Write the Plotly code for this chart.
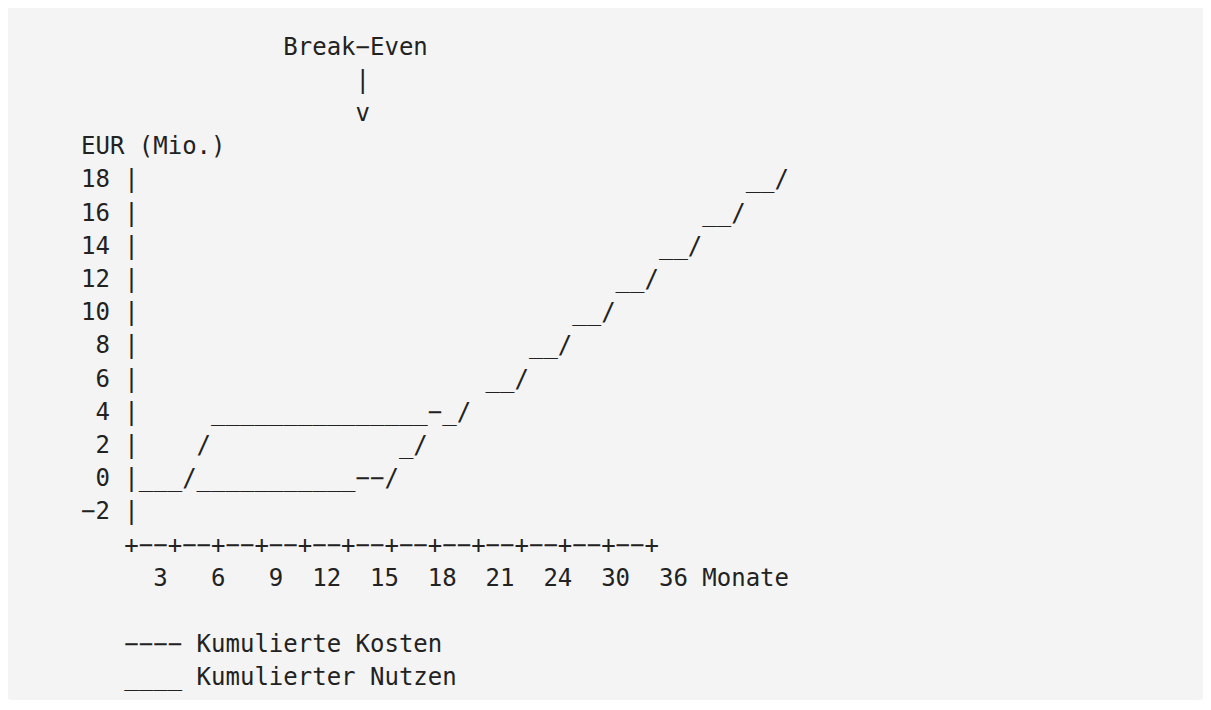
import plotly.graph_objects as go

# ---- data ----
DASH = "\u2212"
break_even_label = "Break" + DASH + "Even"
break_even_col = 19            # column of the marker arrow
y_axis_title = "EUR (Mio.)"
y_tick_labels = [18, 16, 14, 12, 10, 8, 6, 4, 2, 0, -2]
# text drawn to the right of each y tick's "|" (starting at column 4)
curve_rows = [
    " " * 42 + "__/",
    " " * 39 + "__/",
    " " * 36 + "__/",
    " " * 33 + "__/",
    " " * 30 + "__/",
    " " * 27 + "__/",
    " " * 24 + "__/",
    "     _______________" + DASH + "_/",
    "    /             _/",
    "___/___________" + DASH * 2 + "/",
    "",
]
x_tick_labels = [3, 6, 9, 12, 15, 18, 21, 24, 30, 36]
x_unit = "Monate"
legend_items = [(DASH * 4, "Kumulierte Kosten"), ("____", "Kumulierter Nutzen")]

# ---- build text lines ----
lines = []
lines.append(" " * (break_even_col - 5) + break_even_label)
lines.append(" " * break_even_col + "|")
lines.append(" " * break_even_col + "v")
lines.append(y_axis_title)
for v, row in zip(y_tick_labels, curve_rows):
    lines.append(f"{v:>2}".replace("-", DASH) + " |" + row)
lines.append("   " + ("+" + DASH * 2) * (len(x_tick_labels) + 2) + "+")
lines.append("  " + "".join(str(t).rjust(4) for t in x_tick_labels) + " " + x_unit)
lines.append("")
for sym, name in legend_items:
    lines.append("   " + sym + " " + name)

# ---- geometry (page pixels; page body has an 8px margin) ----
OFF = 8
W, H = 1211 - OFF, 710 - OFF
char_w = 14.4
x0_px = 79.6 - OFF
line_h = 33.2
y0_px = 46.5 - OFF

fig = go.Figure()
fig.add_trace(go.Scatter(x=[None], y=[None], showlegend=False, hoverinfo="skip"))

annotations = []
for i, ln in enumerate(lines):
    if not ln.strip():
        continue
    annotations.append(dict(
        x=0, y=i, xref="x", yref="y",
        text=ln.replace(" ", "\u00a0"),
        showarrow=False, xanchor="left", yanchor="middle",
        font=dict(family="DejaVu Sans Mono", size=24, color="#222222"),
        borderpad=0,
    ))

# rounded background block: page (5,5)-(1206,700)
rx, ry = 8 / W, 8 / H
l, r = (5 - OFF) / W, (1206 - OFF) / W
t, b = 1 - (5 - OFF) / H, 1 - (700 - OFF) / H
path = (f"M {l+rx},{t} L {r-rx},{t} Q {r},{t} {r},{t-ry} L {r},{b+ry} "
        f"Q {r},{b} {r-rx},{b} L {l+rx},{b} Q {l},{b} {l},{b+ry} "
        f"L {l},{t-ry} Q {l},{t} {l+rx},{t} Z")

fig.update_layout(
    width=W, height=H, autosize=False,
    margin=dict(l=0, r=0, t=0, b=0),
    paper_bgcolor="white", plot_bgcolor="white",
    xaxis=dict(range=[-x0_px / char_w, (W - x0_px) / char_w], visible=False,
               fixedrange=True),
    yaxis=dict(range=[(H - y0_px) / line_h, -y0_px / line_h], visible=False,
               fixedrange=True),
    shapes=[dict(type="path", xref="paper", yref="paper", path=path,
                 fillcolor="#f4f4f4", line=dict(width=0), layer="below")],
    annotations=annotations,
    showlegend=False,
)

fig.write_html("out.html")
